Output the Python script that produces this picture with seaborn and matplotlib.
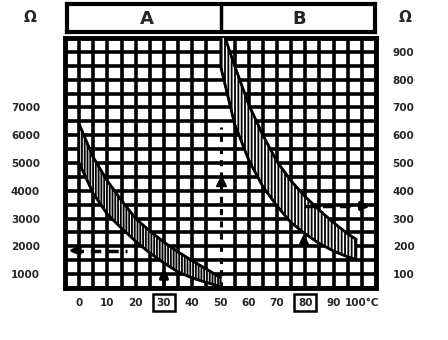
import numpy as np
import pandas as pd
import matplotlib
matplotlib.use("Agg")
import matplotlib.pyplot as plt
import seaborn as sns

# ---- data ----
temp_a = [0, 5, 10, 15, 20, 25, 30, 35, 40, 45, 50]
res_a_max = [6400, 5200, 4350, 3650, 3000, 2550, 2150, 1800, 1480, 1180, 880]
res_a_min = [5000, 3900, 3150, 2650, 2180, 1760, 1400, 1080, 860, 700, 550]

temp_b = [50, 55, 60, 65, 70, 75, 80, 85, 90, 95, 98]
res_b_max = [1000, 850, 710, 600, 505, 435, 378, 330, 285, 245, 225]
res_b_min = [850, 640, 510, 415, 345, 285, 245, 210, 183, 162, 152]

x_ticks = [0, 10, 20, 30, 40, 50, 60, 70, 80, 90, 100]
x_labels = ["0", "10", "20", "30", "40", "50", "60", "70", "80", "90", "100°C"]
left_ticks = [1000, 2000, 3000, 4000, 5000, 6000, 7000]
right_ticks = [100, 200, 300, 400, 500, 600, 700, 800, 900]
panel_labels = ["A", "B"]
boxed_labels = ["30", "80"]

sns.set_style("white")
plt.rcParams['font.family'] = ['DejaVu Sans']
plt.rcParams['hatch.linewidth'] = 1.3

W, H = 448, 340
fig = plt.figure(figsize=(W / 100, H / 100), dpi=100)
ax = fig.add_axes([65 / W, 1 - 288 / H, (376 - 65) / W, (288 - 38) / H])

ax.set_xlim(-5, 105)
ax.set_ylim(500, 9500)
ax.grid(False)
# grid every 5 degC / 500 ohm; the 50 degC line is drawn dotted instead
grid_x = [v for v in np.arange(-5, 106, 5) if v != 50]
grid_y = list(np.arange(500, 9501, 500))
ax.vlines(grid_x, 500, 9500, color='black', lw=2.6, zorder=1)
ax.hlines(grid_y, -5, 105, color='black', lw=2.6, zorder=1)
for s in ax.spines.values():
    s.set_linewidth(3.5)
    s.set_color('black')

ax.set_xticks(x_ticks)
ax.set_yticks(left_ticks)
ax.set_xticklabels(x_labels, fontsize=7.5, fontweight='bold')
ax.set_yticklabels([str(v) for v in left_ticks], fontsize=7.5, fontweight='bold')
ax.tick_params(axis='both', which='both', length=0)
ax.tick_params(axis='y', pad=18)
ax.tick_params(axis='x', pad=7)
for lab in ax.get_xticklabels():
    if lab.get_text() in boxed_labels:
        lab.set_bbox(dict(boxstyle='square,pad=0.35', fc='white', ec='black', lw=1.8))

# band A
dfa = pd.DataFrame({"T": temp_a, "max": res_a_max, "min": res_a_min})
ax.fill_between(dfa["T"], dfa["min"], dfa["max"], facecolor='white', edgecolor='black',
                hatch='||||||', lw=1.5, zorder=3)
sns.lineplot(data=dfa, x="T", y="max", ax=ax, color='black', lw=2.0, zorder=4)
sns.lineplot(data=dfa, x="T", y="min", ax=ax, color='black', lw=2.0, zorder=4)
ax.set_xlabel("")
ax.set_ylabel("")

# annotations on A scale
ax.annotate('', xy=(30, 1300), xytext=(30, 500),
            arrowprops=dict(arrowstyle='-|>', color='black', lw=2.5, mutation_scale=12), zorder=5)
ax.plot([50, 50], [500, 6300], color='black', lw=2.2, ls=(0, (2, 2)), zorder=2)
ax.plot([50], [4350], marker='^', ms=7, color='black', zorder=5)
ax.plot([-2, 17], [1850, 1850], color='black', lw=2.5, ls=(0, (3, 2)), zorder=5)
ax.annotate('', xy=(-4.5, 1850), xytext=(-1, 1850),
            arrowprops=dict(arrowstyle='-|>', color='black', lw=2.5, mutation_scale=12), zorder=5)

# right axis, band B
ax2 = ax.twinx()
ax2.set_ylim(50, 950)
ax2.set_yticks(right_ticks)
ax2.set_yticklabels([str(v) for v in right_ticks], fontsize=7.5, fontweight='bold')
ax2.tick_params(axis='y', length=0, pad=12)
ax2.grid(False)
for s in ax2.spines.values():
    s.set_visible(False)
dfb = pd.DataFrame({"T": temp_b, "max": res_b_max, "min": res_b_min})
ax2.fill_between(dfb["T"], dfb["min"], dfb["max"], facecolor='white', edgecolor='black',
                 hatch='|||||', lw=1.5, zorder=3)
sns.lineplot(data=dfb, x="T", y="max", ax=ax2, color='black', lw=2.0, zorder=4)
sns.lineplot(data=dfb, x="T", y="min", ax=ax2, color='black', lw=2.0, zorder=4)
ax2.set_xlabel("")
ax2.set_ylabel("")
ax2.annotate('', xy=(79.5, 255), xytext=(79.5, 200),
             arrowprops=dict(arrowstyle='-|>', color='black', lw=2.5, mutation_scale=12), zorder=5)
ax2.plot([80, 98], [345, 345], color='black', lw=2.5, ls=(0, (3, 2)), zorder=5)
ax2.annotate('', xy=(104, 345), xytext=(98, 345),
             arrowprops=dict(arrowstyle='-|>', color='black', lw=2.5, mutation_scale=12), zorder=5)

# header box with A | B
hx = fig.add_axes([67 / W, 1 - 32 / H, (375 - 67) / W, (32 - 4) / H])
hx.set_xlim(-5, 105)
hx.set_ylim(0, 1)
hx.set_xticks([])
hx.set_yticks([])
for s in hx.spines.values():
    s.set_linewidth(3)
    s.set_color('black')
hx.axvline(50, color='black', lw=2.5)
hx.text(23.5, 0.45, panel_labels[0], ha='center', va='center', fontsize=13, fontweight='bold')
hx.text(78, 0.45, panel_labels[1], ha='center', va='center', fontsize=13, fontweight='bold')

fig.text(30 / W, 1 - 17 / H, "Ω", ha='center', va='center', fontsize=11, fontweight='bold')
fig.text(405 / W, 1 - 17 / H, "Ω", ha='center', va='center', fontsize=11, fontweight='bold')

fig.savefig("out.png", dpi=100)
